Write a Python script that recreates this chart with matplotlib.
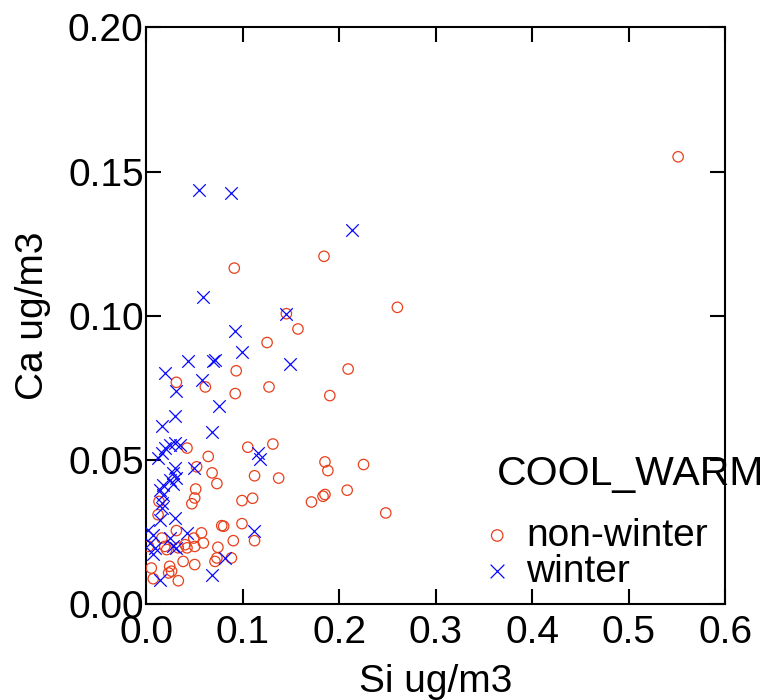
import numpy as np
from matplotlib import pyplot as plt

plt.rcParams['font.family'] = ['Liberation Sans', 'DejaVu Sans']

# non-winter samples (Si, Ca in ug/m3)
si_nonwinter = [0.091, 0.184, 0.260, 0.145, 0.157, 0.125, 0.209, 0.127, 0.190, 0.131,
                0.185, 0.188, 0.225, 0.137, 0.208, 0.171, 0.183, 0.185, 0.248, 0.105,
                0.112, 0.110, 0.099, 0.099, 0.112, 0.093, 0.092, 0.031, 0.061, 0.042,
                0.064, 0.052, 0.068, 0.073, 0.051, 0.050, 0.047, 0.013, 0.012, 0.080,
                0.078, 0.031, 0.057, 0.049, 0.059, 0.090, 0.016, 0.002, 0.021, 0.019,
                0.040, 0.042, 0.050, 0.038, 0.050, 0.074, 0.073, 0.071, 0.088, 0.005,
                0.007, 0.024, 0.026, 0.023, 0.033, 0.033, 0.551]
ca_nonwinter = [0.1165, 0.1206, 0.1029, 0.1007, 0.0954, 0.0907, 0.0815, 0.0753, 0.0723, 0.0555,
                0.0493, 0.0463, 0.0484, 0.0437, 0.0395, 0.0354, 0.0374, 0.0380, 0.0316, 0.0544,
                0.0445, 0.0367, 0.0359, 0.0279, 0.0220, 0.0809, 0.0730, 0.0769, 0.0753, 0.0541,
                0.0512, 0.0476, 0.0455, 0.0418, 0.0399, 0.0368, 0.0348, 0.0356, 0.0310, 0.0270,
                0.0272, 0.0255, 0.0247, 0.0229, 0.0212, 0.0220, 0.0229, 0.0200, 0.0189, 0.0200,
                0.0206, 0.0195, 0.0200, 0.0148, 0.0137, 0.0197, 0.0160, 0.0148, 0.0160, 0.0125,
                0.0088, 0.0131, 0.0114, 0.0108, 0.0081, 0.0195, 0.1551]

# winter samples
si_winter = [0.054, 0.088, 0.059, 0.213, 0.145, 0.149, 0.116, 0.118, 0.111, 0.092,
             0.099, 0.071, 0.069, 0.043, 0.019, 0.058, 0.031, 0.075, 0.030, 0.016,
             0.068, 0.012, 0.016, 0.019, 0.024, 0.030, 0.035, 0.049, 0.030, 0.028,
             0.031, 0.024, 0.028, 0.017, 0.014, 0.017, 0.016, 0.016, 0.014, 0.030,
             0.002, 0.007, 0.004, 0.009, 0.007, 0.024, 0.028, 0.031, 0.042, 0.014,
             0.068, 0.081]
ca_winter = [0.1437, 0.1425, 0.1065, 0.1296, 0.1007, 0.0834, 0.0524, 0.0503, 0.0255, 0.0946,
             0.0874, 0.0848, 0.0844, 0.0842, 0.0801, 0.0778, 0.0738, 0.0686, 0.0651, 0.0616,
             0.0596, 0.0507, 0.0524, 0.0541, 0.0553, 0.0559, 0.0553, 0.0472, 0.0472, 0.0455,
             0.0437, 0.0432, 0.0418, 0.0414, 0.0397, 0.0380, 0.0351, 0.0333, 0.0293, 0.0299,
             0.0258, 0.0241, 0.0212, 0.0195, 0.0172, 0.0229, 0.0200, 0.0195, 0.0247, 0.0085,
             0.0102, 0.0160]

xticks = [0.0, 0.1, 0.2, 0.3, 0.4, 0.5, 0.6]
yticks = [0.00, 0.05, 0.10, 0.15, 0.20]

fig = plt.figure(figsize=(7.75, 7.0), dpi=100)
ax = fig.add_axes([0.189, 0.137, 0.747, 0.824])

ax.scatter(si_nonwinter, ca_nonwinter, s=56, marker='o', facecolors='none',
           edgecolors='#e8401c', linewidths=0.9, label='non-winter', zorder=3)
ax.scatter(si_winter, ca_winter, s=81, marker='x', color='#0a0aff',
           linewidths=0.9, label='winter', zorder=3)

ax.set_xlim(0, 0.6)
ax.set_ylim(0, 0.2)
ax.set_xticks(xticks)
ax.set_yticks(yticks)
ax.set_xticklabels(['%.1f' % t for t in xticks])
ax.set_yticklabels(['%.2f' % t for t in yticks])
ax.tick_params(direction='in', length=11, width=1.5, labelsize=28,
               top=True, right=True, pad=2)
ax.tick_params(axis='x', pad=8)
for sp in ax.spines.values():
    sp.set_linewidth(1.5)

ax.set_xlabel('Si ug/m3', fontsize=28, labelpad=9)
ax.set_ylabel('Ca ug/m3', fontsize=28, labelpad=12)

# legend title drawn on its own so the gap under it matches
fig.text(0.641, 0.307, 'COOL_WARM', fontsize=29.5, ha='left', va='baseline')
leg = ax.legend(loc='center left', bbox_to_anchor=(0.629, 0.209),
                bbox_transform=fig.transFigure, frameon=False, fontsize=28,
                handletextpad=0.6, handlelength=0.3, labelspacing=0.0,
                borderpad=0.1, borderaxespad=0, markerscale=1.1)
leg.set_zorder(5)

fig.savefig('out.png', dpi=100)
